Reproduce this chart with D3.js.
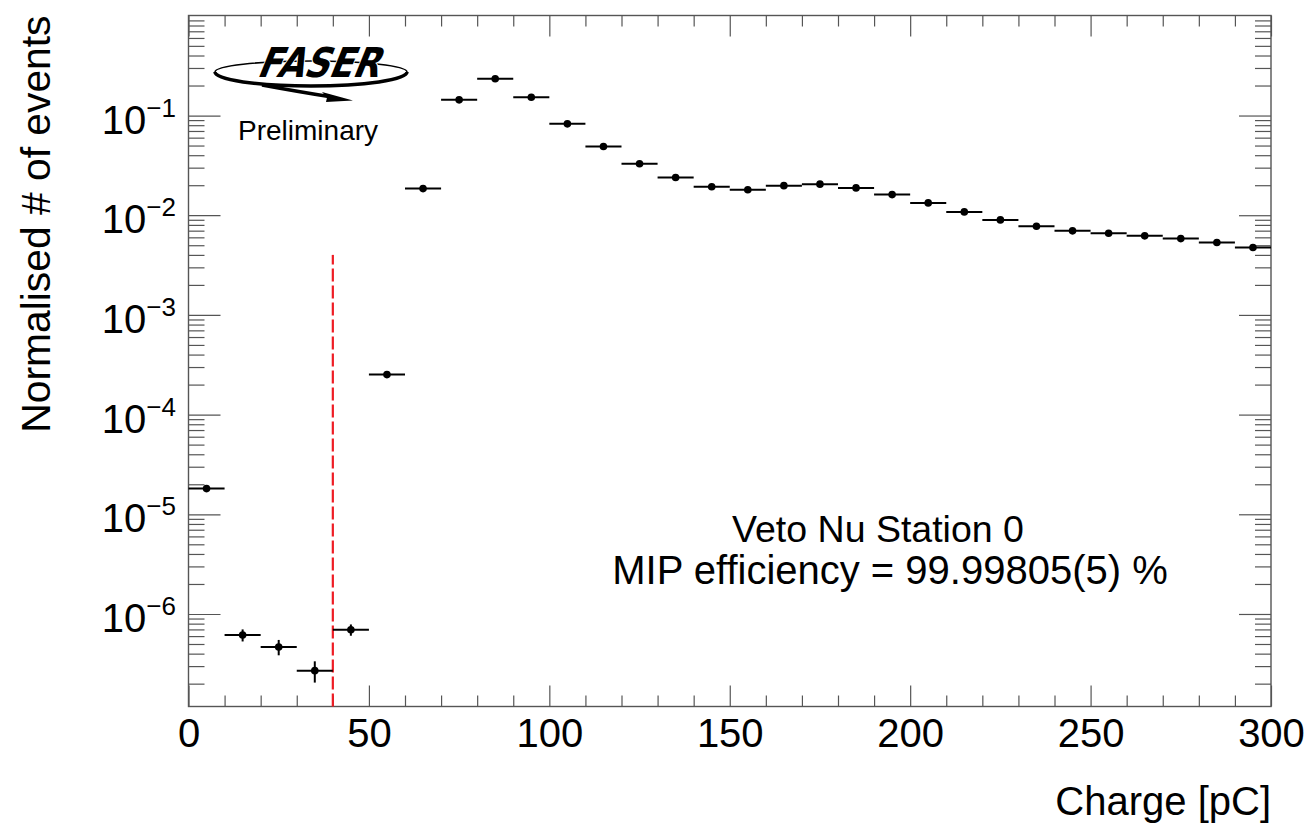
<!DOCTYPE html>
<html>
<head>
<meta charset="utf-8">
<script src="https://cdn.jsdelivr.net/npm/d3@7"></script>
<style>
body { margin: 0; background: #fff; }
svg { font-family: "Liberation Sans", Arial, Helvetica, sans-serif; }
</style>
</head>
<body>
<script>
// histogram bins (bin centre, pC) and normalised contents
var binCenters = [5, 15, 25, 35, 45, 55, 65, 75, 85, 95,
                  105, 115, 125, 135, 145, 155, 165, 175, 185, 195,
                  205, 215, 225, 235, 245, 255, 265, 275, 285, 295];
var binWidth = 10;
var values = [1.81e-5, 6.15e-7, 4.67e-7, 2.70e-7, 6.95e-7, 2.52e-4, 0.0185, 0.1437, 0.2335, 0.1526,
              0.0825, 0.0489, 0.0328, 0.0239, 0.0193, 0.0180, 0.0198, 0.0205, 0.0188, 0.0161,
              0.0133, 0.0108, 0.00898, 0.00775, 0.00697, 0.00659, 0.00621, 0.00583, 0.00532, 0.00474];
var errors = [6e-7, 8.5e-8, 8.2e-8, 6.5e-8, 9e-8, 2e-6, 0, 0, 0, 0,
              0, 0, 0, 0, 0, 0, 0, 0, 0, 0,
              0, 0, 0, 0, 0, 0, 0, 0, 0, 0];
var xTickValues = [0, 50, 100, 150, 200, 250, 300];
var yTickExponents = [-6, -5, -4, -3, -2, -1];
var cutCharge = 40;
var cutTop = 4.0e-3;
var xTitle = "Charge [pC]";
var yTitle = "Normalised # of events";
var labelLines = ["Veto Nu Station 0", "MIP efficiency = 99.99805(5) %"];

var WIDTH = 1308, HEIGHT = 825;
var LEFT = 188.5, RIGHT = 1271, TOP = 15.5, BOTTOM = 706.5;
var AXIS = "#555";

var x = d3.scaleLinear().domain([0, 300]).range([LEFT, RIGHT]);
var y = d3.scaleLog().domain([1.18e-7, 1.008]).range([BOTTOM, TOP]);

var svg = d3.select("body").append("svg")
    .attr("width", WIDTH)
    .attr("height", HEIGHT);

// minor tick values
var xMinor = d3.range(0, 301, 10).filter(function (d) { return d % 50 !== 0; });
var yMinor = [];
for (var k = -7; k <= 0; k++) {
  for (var m = 2; m <= 9; m++) {
    var v = m * Math.pow(10, k);
    if (v > y.domain()[0] && v < y.domain()[1]) yMinor.push(v);
  }
}
var yMajor = yTickExponents.map(function (e) { return Math.pow(10, e); });

function styleAxis(g) {
  g.select(".domain").remove();
  g.selectAll("line").attr("stroke", AXIS).attr("stroke-width", 1.2);
}

// x axes (bottom + top), ticks pointing inwards
svg.append("g").attr("transform", "translate(0," + BOTTOM + ")")
  .call(d3.axisBottom(x).tickValues(xMinor).tickSize(-11).tickFormat(""))
  .call(styleAxis);
var xb = svg.append("g").attr("transform", "translate(0," + BOTTOM + ")")
  .call(d3.axisBottom(x).tickValues(xTickValues).tickSize(-21).tickFormat(d3.format("d")))
  .call(styleAxis);
xb.selectAll("text").attr("font-size", 40).attr("fill", "#000")
  .attr("font-family", "'Liberation Sans', Arial, sans-serif")
  .attr("dy", 0).attr("y", 40);
svg.append("g").attr("transform", "translate(0," + TOP + ")")
  .call(d3.axisTop(x).tickValues(xMinor).tickSize(-11).tickFormat(""))
  .call(styleAxis);
svg.append("g").attr("transform", "translate(0," + TOP + ")")
  .call(d3.axisTop(x).tickValues(xTickValues).tickSize(-21).tickFormat(""))
  .call(styleAxis);

// y axes (left + right)
svg.append("g").attr("transform", "translate(" + LEFT + ",0)")
  .call(d3.axisLeft(y).tickValues(yMinor).tickSize(-16).tickFormat(""))
  .call(styleAxis);
svg.append("g").attr("transform", "translate(" + LEFT + ",0)")
  .call(d3.axisLeft(y).tickValues(yMajor).tickSize(-32).tickFormat(""))
  .call(styleAxis);
svg.append("g").attr("transform", "translate(" + RIGHT + ",0)")
  .call(d3.axisRight(y).tickValues(yMinor).tickSize(-16).tickFormat(""))
  .call(styleAxis);
svg.append("g").attr("transform", "translate(" + RIGHT + ",0)")
  .call(d3.axisRight(y).tickValues(yMajor).tickSize(-32).tickFormat(""))
  .call(styleAxis);

// y tick labels 10^n
var ylab = svg.append("g").selectAll("text")
  .data(yTickExponents)
  .enter().append("text")
  .attr("x", 176)
  .attr("y", function (d) { return y(Math.pow(10, d)) + 18; })
  .attr("text-anchor", "end")
  .attr("font-size", 40)
  .attr("fill", "#000");
ylab.append("tspan").text("10");
ylab.append("tspan").attr("dy", -17).attr("font-size", 26)
  .text(function (d) { return "\u2212" + Math.abs(d); });

// frame
svg.append("rect")
  .attr("x", LEFT).attr("y", TOP)
  .attr("width", RIGHT - LEFT).attr("height", BOTTOM - TOP)
  .attr("fill", "none").attr("stroke", AXIS).attr("stroke-width", 1.4);

// axis titles
svg.append("text")
  .attr("x", RIGHT).attr("y", 815)
  .attr("text-anchor", "end").attr("font-size", 40).attr("fill", "#000")
  .text(xTitle);
svg.append("text")
  .attr("transform", "translate(50," + TOP + ") rotate(-90)")
  .attr("text-anchor", "end").attr("font-size", 40.8).attr("fill", "#000")
  .text(yTitle);

// cut line
svg.append("line")
  .attr("x1", x(cutCharge)).attr("x2", x(cutCharge))
  .attr("y1", BOTTOM).attr("y2", y(cutTop))
  .attr("stroke", "#ee1c24").attr("stroke-width", 2.2)
  .attr("stroke-dasharray", "13,4");

// data points
var pts = svg.append("g").selectAll("g")
  .data(binCenters.map(function (c, i) { return {c: c, v: values[i], e: errors[i]}; }))
  .enter().append("g");
pts.append("line")
  .attr("x1", function (d) { return x(d.c - binWidth / 2); })
  .attr("x2", function (d) { return x(d.c + binWidth / 2); })
  .attr("y1", function (d) { return y(d.v); })
  .attr("y2", function (d) { return y(d.v); })
  .attr("stroke", "#000").attr("stroke-width", 2);
pts.filter(function (d) { return d.e > 0; }).append("line")
  .attr("x1", function (d) { return x(d.c); })
  .attr("x2", function (d) { return x(d.c); })
  .attr("y1", function (d) { return y(d.v - d.e); })
  .attr("y2", function (d) { return y(d.v + d.e); })
  .attr("stroke", "#000").attr("stroke-width", 2);
pts.append("circle")
  .attr("cx", function (d) { return x(d.c); })
  .attr("cy", function (d) { return y(d.v); })
  .attr("r", 3.8).attr("fill", "#000");

// text box
var boxX = [878, 890], boxSize = [37.5, 40];
svg.append("g").selectAll("text")
  .data(labelLines)
  .enter().append("text")
  .attr("x", function (d, i) { return boxX[i]; })
  .attr("y", function (d, i) { return 542 + i * 42; })
  .attr("text-anchor", "middle")
  .attr("font-size", function (d, i) { return boxSize[i]; })
  .attr("fill", "#000")
  .text(function (d) { return d; });

// FASER logo
var logo = svg.append("g");
logo.append("path")
  .attr("d", "M215,72 A96,11 0 0,1 407,72")
  .attr("fill", "none").attr("stroke", "#000").attr("stroke-width", 1.6);
logo.append("path")
  .attr("d", "M407,72 A96,14 0 0,1 215,72")
  .attr("fill", "none").attr("stroke", "#000").attr("stroke-width", 3.5);
logo.append("text")
  .attr("transform", "translate(256,77) skewX(-22)")
  .attr("font-size", 41).attr("font-weight", "bold")
  .attr("font-family", "'DejaVu Sans', sans-serif")
  .attr("textLength", 122).attr("lengthAdjust", "spacingAndGlyphs")
  .attr("fill", "#000").attr("stroke", "#fff").attr("stroke-width", 2)
  .attr("paint-order", "stroke")
  .text("FASER");
logo.append("path")
  .attr("d", "M262,85 Q300,92 332,97")
  .attr("fill", "none").attr("stroke", "#000").attr("stroke-width", 3.5);
logo.append("path")
  .attr("d", "M353,100.5 L322,92 L327,97.5 L326,102 Z")
  .attr("fill", "#000");
logo.append("text")
  .attr("x", 238).attr("y", 140)
  .attr("font-size", 28).attr("fill", "#000")
  .text("Preliminary");
</script>
</body>
</html>
